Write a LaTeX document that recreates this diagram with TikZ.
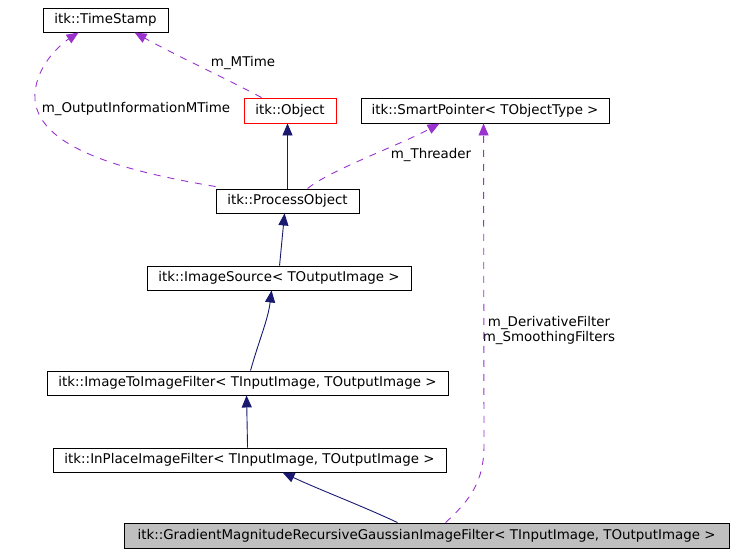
\documentclass[tikz,border=0pt]{standalone}
\usepackage{fontspec}
\setmainfont{DejaVu Sans}
\usetikzlibrary{arrows.meta,calc}
\definecolor{navy}{HTML}{191970}
\definecolor{purp}{HTML}{9A32CD}
\begin{document}
\begin{tikzpicture}[x=1pt,y=-1pt,
  box/.style={draw=black,line width=0.9pt,fill=white,inner sep=0pt,font=\fontsize{13.4}{15}\selectfont},
  lbl/.style={font=\fontsize{13.4}{15}\selectfont,inner sep=0pt},
  inh/.style={draw=navy,line width=0.9pt,-{Triangle[length=12pt,width=10pt]}},
  use/.style={draw=purp,line width=0.9pt,dash pattern=on 7pt off 7pt,-{Triangle[length=12pt,width=10pt]}}]
\useasboundingbox (0,0) rectangle (733,555);
\node[box,minimum width=125,minimum height=24] (ts) at (105.5,20) {itk::TimeStamp};
\node[box,draw=red,minimum width=92,minimum height=25] (obj) at (290,110.5) {itk::Object};
\node[box,minimum width=248,minimum height=25] (sp) at (485,110.5) {itk::SmartPointer< TObjectType >};
\node[box,minimum width=143,minimum height=24] (po) at (287.5,201) {itk::ProcessObject};
\node[box,minimum width=264,minimum height=24] (is) at (279,278) {itk::ImageSource< TOutputImage >};
\node[box,minimum width=401,minimum height=24] (itif) at (247.5,383) {itk::ImageToImageFilter< TInputImage, TOutputImage >};
\node[box,minimum width=393,minimum height=24] (ipif) at (249.5,460) {itk::InPlaceImageFilter< TInputImage, TOutputImage >};
\node[box,fill=black!25,minimum width=605,minimum height=25] (gm) at (426.5,535.5) {itk::GradientMagnitudeRecursiveGaussianImageFilter< TInputImage, TOutputImage >};
% labels
\node[lbl] (l1) at (243,63) {m\_MTime};
\node[lbl] (l2) at (136,109) {m\_OutputInformationMTime};
\node[lbl] (l3) at (431,155) {m\_Threader};
\node[lbl,align=center] (l4) at (549,330) {m\_DerivativeFilter\\m\_SmoothingFilters};
% edges
\draw[use] ($(obj.north west)+(18,0)$) .. controls (225,78) and (175,55) .. ($(ts.south west)+(92,0)$);
\draw[use] ($(po.north west)+(0,-2)$) .. controls (130,172) and (40,150) .. (35,100) .. controls (33,70) and (58,46) .. ($(ts.south west)+(36,0)$);
\draw[inh] (po.north) -- (po.north |- obj.south);
\draw[use] ($(po.north west)+(92,0)$) .. controls (330,170) and (400,145) .. ($(sp.south west)+(79,0)$);
\draw[use] ($(gm.north west)+(322,0)$) .. controls (470,500) and (484,482) .. (484,445) -- ($(sp.south west)+(123,0)$);
\draw[inh] ($(is.north west)+(133,0)$) -- ($(po.south west)+(69,0)$);
\draw[inh] ($(itif.north west)+(204,0)$) .. controls (259,340) and (268,320) .. ($(is.south west)+(125,0)$);
\draw[inh] ($(ipif.north west)+(195,0)$) -- ($(itif.south west)+(200,0)$);
\draw[inh] ($(gm.north west)+(274,0)$) .. controls (360,505) and (320,490) .. ($(ipif.south west)+(230,0)$);
\end{tikzpicture}
\end{document}
